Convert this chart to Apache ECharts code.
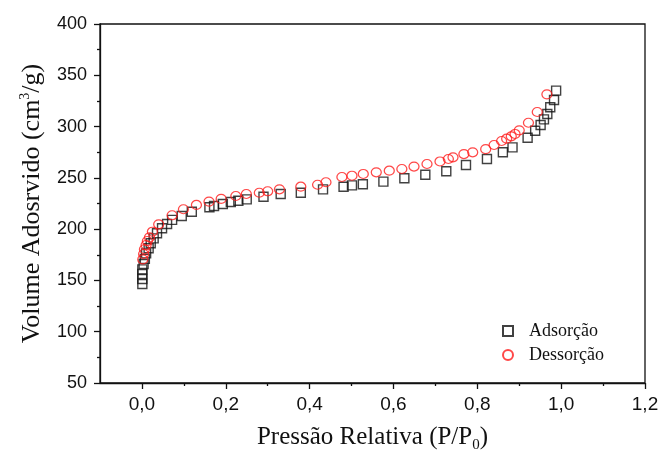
<!DOCTYPE html>
<html>
<head>
<meta charset="utf-8">
<script src="https://cdn.jsdelivr.net/npm/echarts@6/dist/echarts.min.js"></script>
<style>
  html, body { margin: 0; padding: 0; background: #fff; }
  #chart { width: 661px; height: 451px; }
</style>
</head>
<body>
<div id="chart"></div>
<script>
// Adsorption (squares)
const adsX = [0.001,0.001,0.001,0.001,0.004,0.007,0.010,0.016,0.021,0.028,0.036,0.048,0.060,0.072,0.095,0.119,0.161,0.172,0.193,0.212,0.230,0.250,0.290,0.331,0.379,0.432,0.481,0.501,0.527,0.576,0.626,0.676,0.726,0.773,0.823,0.861,0.884,0.920,0.938,0.951,0.959,0.967,0.974,0.983,0.988];
const adsY = [146.5,151.4,156.3,160.8,166,171,176.4,181.3,186.2,191,196,200.8,205,209,212.8,217,221.3,222.6,224.5,226.5,227.7,229,231.6,234.3,235.5,238.8,241.4,242.7,243.7,246.3,249.6,253.1,256.5,262.5,268.4,274.9,279.7,289.1,295.9,301.5,307,312.3,318.8,325.9,335];
// Desorption (circles)
const desX = [0.002,0.004,0.006,0.010,0.013,0.018,0.025,0.040,0.072,0.099,0.130,0.160,0.189,0.224,0.249,0.280,0.300,0.328,0.379,0.419,0.439,0.477,0.501,0.528,0.559,0.590,0.620,0.649,0.680,0.711,0.731,0.742,0.768,0.789,0.820,0.840,0.858,0.870,0.881,0.890,0.900,0.922,0.943,0.966];
const desY = [170.5,175.8,180.4,184.5,188.4,192,197.5,204.7,213.5,219.4,223.6,226.8,229.5,232.3,234.3,235.5,236.9,238.8,241.4,243.3,245.7,250.8,252.1,253.8,255.4,257,258.6,261,263.5,266,268.4,270,273.2,274.9,278,282,285.9,288.2,290.5,292.8,296.3,303.7,314.2,331.4];
// Tick values
const xMajorTicks = [0, 0.2, 0.4, 0.6, 0.8, 1.0, 1.2];
const xMinorTicks = [0.1, 0.3, 0.5, 0.7, 0.9, 1.1];
const seriesNames = ['Adsorção', 'Dessorção'];

const pair = (xs, ys) => xs.map((x, i) => [x, ys[i]]);
const ink = '#111';
const sans = 'Liberation Sans';
const serif = 'Liberation Serif';

const chart = echarts.init(document.getElementById('chart'), null, { renderer: 'canvas' });
chart.setOption({
  animation: false,
  backgroundColor: '#fff',
  grid: { left: 100, right: 16, top: 24, bottom: 68, show: true, borderColor: ink, borderWidth: 1.3,
    backgroundColor: 'transparent', containLabel: false, outerBoundsMode: 'none' },
  legend: {
    orient: 'vertical', left: 497, top: 317, itemWidth: 10, itemHeight: 10, itemGap: 6,
    textStyle: { fontFamily: serif, fontSize: 18, color: '#111', padding: [0, 0, 0, 11] },
    data: seriesNames
  },
  xAxis: [
    {
      type: 'value', min: -0.1, max: 1.2, position: 'bottom',
      axisLine: { show: true, onZero: false, lineStyle: { color: ink, width: 1.3 } },
      axisTick: { show: true, inside: false, length: 6, customValues: xMajorTicks, lineStyle: { color: ink, width: 1.3 } },
      axisLabel: { customValues: xMajorTicks, margin: 12, fontFamily: sans, fontSize: 19, color: '#111',
        formatter: v => v.toFixed(1).replace('.', ',') },
      splitLine: { show: false },
      name: 'Pressão Relativa (P/P{sub|0})', nameLocation: 'middle', nameGap: 39,
      nameTextStyle: { fontFamily: serif, fontSize: 25, color: '#111',
        rich: { sub: { fontFamily: serif, fontSize: 15, verticalAlign: 'bottom', padding: [16, 0, 0, 0] } } }
    },
    {
      type: 'value', min: -0.1, max: 1.2, position: 'bottom', offset: 0,
      axisLine: { show: false },
      axisTick: { show: true, inside: false, length: 3, customValues: xMinorTicks, lineStyle: { color: ink, width: 1.3 } },
      axisLabel: { show: false },
      splitLine: { show: false }
    }
  ],
  yAxis: {
    type: 'value', min: 50, max: 400, interval: 50,
    axisLine: { show: true, onZero: false, lineStyle: { color: ink, width: 1.3 } },
    axisTick: { show: true, inside: false, length: 6, lineStyle: { color: ink, width: 1.3 } },
    minorTick: { show: true, splitNumber: 2, length: 3, lineStyle: { color: ink, width: 1.3 } },
    axisLabel: { margin: 13, fontFamily: sans, fontSize: 18, color: '#111' },
    splitLine: { show: false },
    name: 'Volume Adosrvido (cm{sup|3}/g)', nameLocation: 'middle', nameGap: 54, nameRotate: 90,
    nameTextStyle: { fontFamily: serif, fontSize: 26, color: '#111',
      rich: { sup: { fontFamily: serif, fontSize: 14, verticalAlign: 'top', padding: [0, 0, 14, 0] } } }
  },
  series: [
    {
      name: seriesNames[0], type: 'scatter', xAxisIndex: 0,
      symbol: 'rect', symbolSize: 9,
      itemStyle: { color: 'rgba(255,255,255,0)', borderColor: '#111', borderWidth: 1.4 },
      data: pair(adsX, adsY), z: 2
    },
    {
      name: seriesNames[1], type: 'scatter', xAxisIndex: 0,
      symbol: 'circle', symbolSize: [10, 9],
      itemStyle: { color: 'rgba(255,255,255,0)', borderColor: '#ff1a1a', borderWidth: 1.2 },
      data: pair(desX, desY), z: 3
    }
  ]
});
</script>
</body>
</html>
